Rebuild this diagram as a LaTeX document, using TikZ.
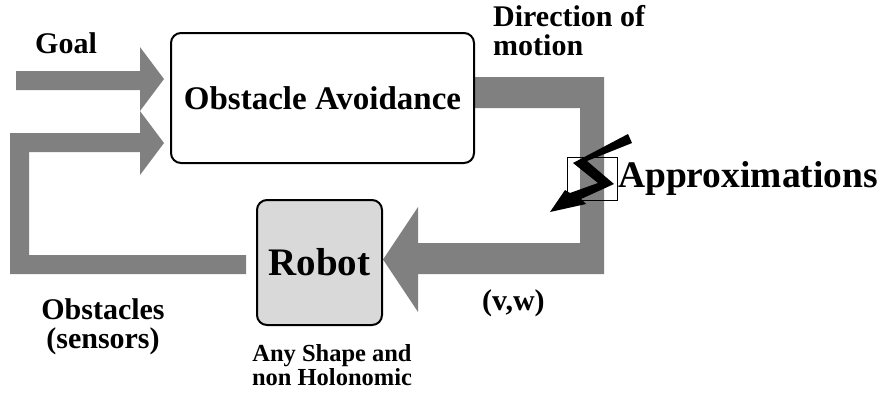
\documentclass[tikz,border=0pt]{standalone}
\usepackage{fontspec}
\setmainfont{Liberation Serif}
\usetikzlibrary{positioning}
\definecolor{flowgray}{gray}{0.5}
\definecolor{robotgray}{gray}{0.85}
\tikzset{
  block/.style={draw,line width=2pt,rounded corners=10pt,inner sep=0pt,fill=white},
  flow/.style={fill=flowgray},
  lbl/.style={font=\bfseries\fontsize{30}{29}\selectfont,inner sep=0pt},
}

\begin{document}
\begin{tikzpicture}[x=1pt,y=-1pt]
\useasboundingbox (0,0) rectangle (882,392);
\fill[flow] (16,71) -- (140,71) -- (140,47) -- (164,79) -- (140,111) -- (140,90) -- (16,90) -- cycle;
\fill[flow] (246,274) -- (10,274) -- (10,133) -- (140,133) -- (140,111) -- (164,143) -- (140,175) -- (140,152) -- (29,152) -- (29,255) -- (246,255) -- cycle;
\fill[flow] (474,77) -- (604,77) -- (604,274) -- (418,274) -- (418,312) -- (383,259.5) -- (418,207) -- (418,243) -- (580,243) -- (580,108) -- (474,108) -- cycle;
\node[block,minimum width=303pt,minimum height=130pt,font=\bfseries\fontsize{33}{36}\selectfont] (avoid) at (322.5,98) {Obstacle Avoidance};
\node[block,fill=robotgray,minimum size=125pt,font=\bfseries\fontsize{39}{40}\selectfont] (robot) at (319.5,262.5) {Robot};
\draw[line width=0.6pt] (567,157) rectangle (617,200);
\fill (628,134) -- (573,163) -- (598,183) -- (570,193) -- (565,190) -- (550,212) -- (586,204) -- (581,199) -- (614,184) -- (587,161) -- (632,143) -- cycle;
\node[lbl,anchor=base west] (goal) at (35,53) {Goal};
\node[lbl,anchor=base west,align=left] (dir) at (493,55) {Direction of\\motion};
\node[lbl,anchor=base west,font=\bfseries\fontsize{37.5}{40}\selectfont] (approx) at (618,187) {Approximations};
\node[lbl,anchor=base west] (vw) at (482,310) {(v,w)};
\node[lbl,anchor=base,align=center] (obst) at (103,348) {Obstacles\\(sensors)};
\node[lbl,anchor=base,align=center,font=\bfseries\fontsize{24.5}{20}\selectfont] (shape) at (332,385) {Any Shape and\\non Holonomic};
\end{tikzpicture}
\end{document}
